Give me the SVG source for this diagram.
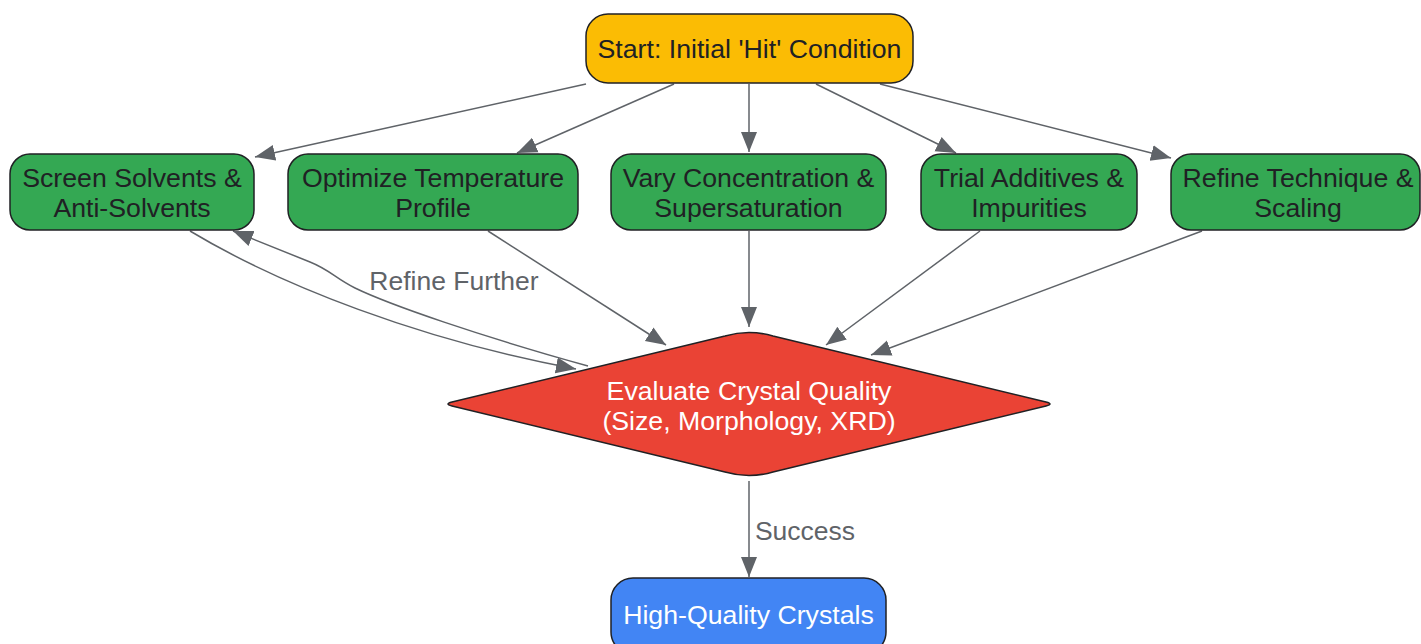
<svg xmlns="http://www.w3.org/2000/svg" width="1421" height="644" viewBox="0 0 1421 644">
<style>
.n text{font-family:"Liberation Sans",Arial,sans-serif;font-size:26.7px;text-anchor:middle;dominant-baseline:central;fill:#202124}
.box{stroke:#202124;stroke-width:1.5}
.g{fill:#34A853}
.y{fill:#FBBC04}
.r{fill:#EA4335}
.b{fill:#4285F4}
.n text.w{fill:#ffffff}
.e path{fill:none;stroke:#5f6368;stroke-width:1.5;marker-end:url(#ah)}
.lbl{font-family:"Liberation Sans",Arial,sans-serif;font-size:26.5px;text-anchor:middle;dominant-baseline:central;fill:#5f6368}
</style>
<defs>
<marker id="ah" markerUnits="userSpaceOnUse" markerWidth="22" markerHeight="18" refX="20" refY="9" orient="auto">
<path d="M0,1 L20,9 L0,17 Z" fill="#5f6368"/>
</marker>
</defs>
<rect width="1421" height="644" fill="#ffffff"/>
<g class="e" id="connectors">
<path d="M586,84 L255,157"/>
<path d="M674,84 L517,153"/>
<path d="M749,84 L749,152"/>
<path d="M816,84 L956,153"/>
<path d="M880,84 L1171,158"/>
<path d="M190,231 C280,285 420,340 576,369"/>
<path d="M588,366 C480,336 390,305 355,288 C335,278 330,270 310,262 L233,231"/>
<path d="M488,231 L666,345"/>
<path d="M749,231 L749,327"/>
<path d="M980,231 L826,345"/>
<path d="M1202,231 L871,355"/>
<path d="M749,481 L749,577"/>
<text class="lbl" x="454" y="281">Refine Further</text>
<text class="lbl" x="805" y="531">Success</text>
</g>
<g class="n" id="start">
<rect class="box y" x="586" y="14" width="327" height="69" rx="22"/>
<text x="749.5" y="49">Start: Initial 'Hit' Condition</text>
</g>
<g class="n" id="screen">
<rect class="box g" x="10" y="154" width="244" height="76" rx="20"/>
<text x="132" y="178">Screen Solvents &amp;</text>
<text x="132" y="208">Anti-Solvents</text>
</g>
<g class="n" id="optimize">
<rect class="box g" x="288" y="154" width="290" height="76" rx="20"/>
<text x="433" y="178">Optimize Temperature</text>
<text x="433" y="208">Profile</text>
</g>
<g class="n" id="vary">
<rect class="box g" x="611" y="154" width="275" height="76" rx="20"/>
<text x="748.5" y="178">Vary Concentration &amp;</text>
<text x="748.5" y="208">Supersaturation</text>
</g>
<g class="n" id="trial">
<rect class="box g" x="921" y="154" width="216" height="76" rx="20"/>
<text x="1029" y="178">Trial Additives &amp;</text>
<text x="1029" y="208">Impurities</text>
</g>
<g class="n" id="refine">
<rect class="box g" x="1171" y="154" width="249" height="76" rx="20"/>
<text x="1298" y="178">Refine Technique &amp;</text>
<text x="1298" y="208">Scaling</text>
</g>
<g class="n" id="evaluate">
<path class="box r" d="M452,402.1 L725,336 Q749,329 773,336 L1046,402.1 Q1054,404 1046,405.9 L773,472 Q749,479 725,472 L452,405.9 Q444,404 452,402.1 Z"/>
<text class="w" x="749" y="391">Evaluate Crystal Quality</text>
<text class="w" x="749" y="421">(Size, Morphology, XRD)</text>
</g>
<g class="n" id="hq">
<rect class="box b" x="611" y="578" width="275" height="76" rx="22"/>
<text class="w" x="748.5" y="615">High-Quality Crystals</text>
</g>
</svg>
